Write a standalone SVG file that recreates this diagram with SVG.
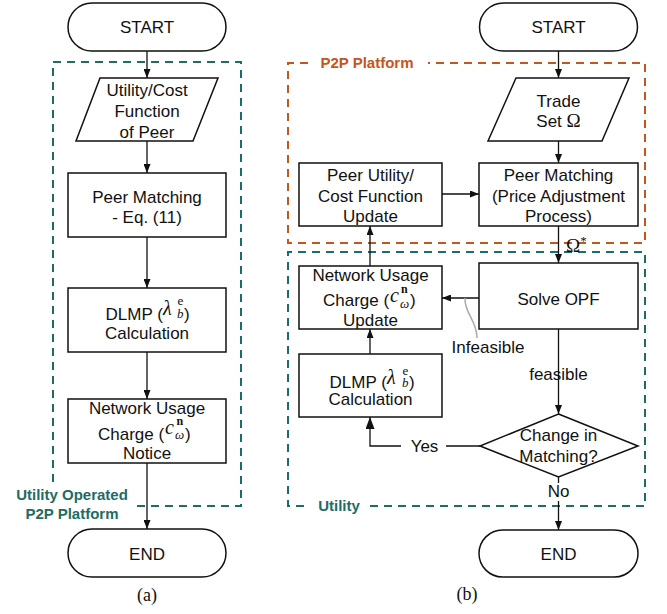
<svg xmlns="http://www.w3.org/2000/svg" width="667" height="614" viewBox="0 0 667 614">
<style>
.box{fill:#fff;stroke:#111;stroke-width:1.5}
.ln{fill:none;stroke:#111;stroke-width:1.3}
.t{font-family:"Liberation Sans",Arial,sans-serif;font-size:17px;fill:#111;text-anchor:middle}
.ts{font-family:"Liberation Sans",Arial,sans-serif;font-size:17px;fill:#111}
.mi{font-family:"Liberation Serif","Times New Roman",serif;font-style:italic}
.mr{font-family:"Liberation Serif","Times New Roman",serif;font-style:normal}
.m{font-family:"Liberation Serif","Times New Roman",serif;fill:#111}
.cap{font-family:"Liberation Serif","Times New Roman",serif;font-size:18px;fill:#111;text-anchor:middle}
.teal{fill:none;stroke:#1e6b67;stroke-width:2;stroke-dasharray:8 6}
.orange{fill:none;stroke:#c5561c;stroke-width:2;stroke-dasharray:8 6}
.lt{font-family:"Liberation Sans",Arial,sans-serif;font-size:15px;font-weight:bold;text-anchor:middle}
</style>
<defs>
<marker id="ah" viewBox="0 0 9 7" refX="9" refY="3.5" markerWidth="9" markerHeight="7" markerUnits="userSpaceOnUse" orient="auto"><path d="M0,0 L9,3.5 L0,7 z" fill="#111"/></marker>
<marker id="ahb" viewBox="0 0 12 9" refX="12" refY="4.5" markerWidth="12" markerHeight="9" markerUnits="userSpaceOnUse" orient="auto"><path d="M0,0 L12,4.5 L0,9 z" fill="#111"/></marker>
</defs>

<!-- Containers -->
<g id="container-a">
<path class="teal" d="M137,506 H241 V62 H53 V482"/>
<text class="lt" x="72" y="500" fill="#1e6b67">Utility Operated</text>
<text class="lt" x="72" y="519" fill="#1e6b67">P2P Platform</text>
</g>
<g id="container-p2p">
<path class="orange" d="M308,63 H288 V243 H645 V63 H428"/>
<text class="lt" x="367" y="68" fill="#c5561c">P2P Platform</text>
</g>
<g id="container-utility">
<path class="teal" d="M370,506 H645 V252 H288 V506 H306"/>
<text class="lt" x="339" y="511" fill="#1e6b67">Utility</text>
</g>

<!-- Connectors -->
<g id="connectors">
<path class="ln" marker-end="url(#ah)" d="M147,51 V78"/>
<path class="ln" marker-end="url(#ah)" d="M147,141 V173"/>
<path class="ln" marker-end="url(#ah)" d="M147,237 V288"/>
<path class="ln" marker-end="url(#ah)" d="M147,352 V399"/>
<path class="ln" marker-end="url(#ah)" d="M147,463 V529"/>

<path class="ln" marker-end="url(#ah)" d="M558.5,51 V78"/>
<path class="ln" marker-end="url(#ah)" d="M558.5,141 V163"/>
<path class="ln" marker-end="url(#ah)" d="M442,194 H479"/>
<path class="ln" marker-end="url(#ah)" d="M558.5,226 V263"/>
<path class="ln" marker-end="url(#ah)" d="M479,298 H442"/>
<path class="ln" marker-end="url(#ah)" d="M370,266 V226"/>
<path class="ln" marker-end="url(#ah)" d="M370,354 V329"/>
<path class="ln" marker-end="url(#ah)" d="M558.5,329 V414"/>
<path class="ln" d="M480,446 H446"/>
<path class="ln" marker-end="url(#ahb)" d="M401,446 H370 V417"/>
<path class="ln" d="M558.5,477 V483"/>
<path class="ln" marker-end="url(#ah)" d="M558.5,501 V530"/>
<path d="M465,298 C464,313 477,320 477,338" fill="none" stroke="#aaa" stroke-width="1.5"/>
<text class="m" x="566" y="252" font-size="19">Ω<tspan font-size="13" dy="-7">*</tspan></text>
<text class="t" x="488" y="353">Infeasible</text>
<text class="t" x="558.5" y="380">feasible</text>
<text class="t" x="424.5" y="452">Yes</text>
<text class="t" x="558.5" y="497">No</text>
</g>

<!-- Panel (a) nodes -->
<g id="a-start">
<rect class="box" x="68" y="3" width="158" height="48" rx="24"/>
<text class="t" x="147" y="33">START</text>
</g>
<g id="a-utility">
<polygon class="box" points="100,78 218,78 193,141 76,141"/>
<text class="t" x="147" y="96">Utility/Cost</text>
<text class="t" x="147" y="117">Function</text>
<text class="t" x="147" y="138">of Peer</text>
</g>
<g id="a-matching">
<rect class="box" x="68" y="173" width="158" height="64"/>
<text class="t" x="147" y="203">Peer Matching</text>
<text class="t" x="147" y="223">- Eq. (11)</text>
</g>
<g id="a-dlmp">
<rect class="box" x="68" y="288" width="158" height="64"/>
<text class="ts" x="105.5" y="320">DLMP (<tspan class="mi" x="163" y="315" font-size="20">λ</tspan><tspan class="mr" x="177.5" y="305" font-size="13">e</tspan><tspan class="mi" x="177" y="318" font-size="13">b</tspan><tspan x="184" y="320">)</tspan></text>
<text class="t" x="147" y="339">Calculation</text>
</g>
<g id="a-network">
<rect class="box" x="68" y="399" width="158" height="64"/>
<text class="t" x="147" y="414">Network Usage</text>
<text class="ts" x="98" y="440">Charge (<tspan class="mi" x="165" y="434" font-size="20">c</tspan><tspan class="mr" x="176.5" y="425" font-size="12" font-weight="bold">n</tspan><tspan class="mi" x="175" y="439" font-size="13">ω</tspan><tspan x="185" y="440">)</tspan></text>
<text class="t" x="147" y="459">Notice</text>
</g>
<g id="a-end">
<rect class="box" x="68" y="529" width="158" height="48" rx="24"/>
<text class="t" x="147" y="560">END</text>
</g>
<text class="cap" x="147" y="601">(a)</text>

<!-- Panel (b) nodes -->
<g id="b-start">
<rect class="box" x="479.5" y="3" width="158" height="48" rx="24"/>
<text class="t" x="558.5" y="33">START</text>
</g>
<g id="b-trade">
<polygon class="box" points="516,78 629,78 602,141 488,141"/>
<text class="t" x="558.5" y="107">Trade</text>
<text class="t" x="558.5" y="127">Set <tspan class="mr" font-size="19">Ω</tspan></text>
</g>
<g id="b-matching">
<rect class="box" x="479" y="163" width="159" height="63"/>
<text class="t" x="558.5" y="181">Peer Matching</text>
<text class="t" x="558.5" y="202">(Price Adjustment</text>
<text class="t" x="558.5" y="222">Process)</text>
</g>
<g id="b-update">
<rect class="box" x="299" y="163" width="143" height="63"/>
<text class="t" x="370.5" y="181">Peer Utility/</text>
<text class="t" x="370.5" y="202">Cost Function</text>
<text class="t" x="370.5" y="222">Update</text>
</g>
<g id="b-opf">
<rect class="box" x="479" y="263" width="159" height="66"/>
<text class="t" x="558.5" y="305">Solve OPF</text>
</g>
<g id="b-network">
<rect class="box" x="299" y="266" width="143" height="63"/>
<text class="t" x="370.5" y="281">Network Usage</text>
<text class="ts" x="323" y="306">Charge (<tspan class="mi" x="390" y="302" font-size="20">c</tspan><tspan class="mr" x="401" y="293" font-size="12" font-weight="bold">n</tspan><tspan class="mi" x="400" y="308" font-size="13">ω</tspan><tspan x="410" y="306">)</tspan></text>
<text class="t" x="370.5" y="326">Update</text>
</g>
<g id="b-dlmp">
<rect class="box" x="299" y="354" width="143" height="63"/>
<text class="ts" x="329.5" y="388">DLMP (<tspan class="mi" x="387" y="384" font-size="20">λ</tspan><tspan class="mr" x="402.5" y="375" font-size="13">e</tspan><tspan class="mi" x="402" y="387" font-size="13">b</tspan><tspan x="409" y="388">)</tspan></text>
<text class="t" x="370.5" y="405">Calculation</text>
</g>
<g id="b-change">
<polygon class="box" points="558.5,414 638,446 558.5,477 480,446"/>
<text class="t" x="558.5" y="441">Change in</text>
<text class="t" x="558.5" y="462">Matching?</text>
</g>
<g id="b-end">
<rect class="box" x="479" y="530" width="159" height="47" rx="23.5"/>
<text class="t" x="558.5" y="560">END</text>
</g>
<text class="cap" x="467" y="600">(b)</text>
</svg>
